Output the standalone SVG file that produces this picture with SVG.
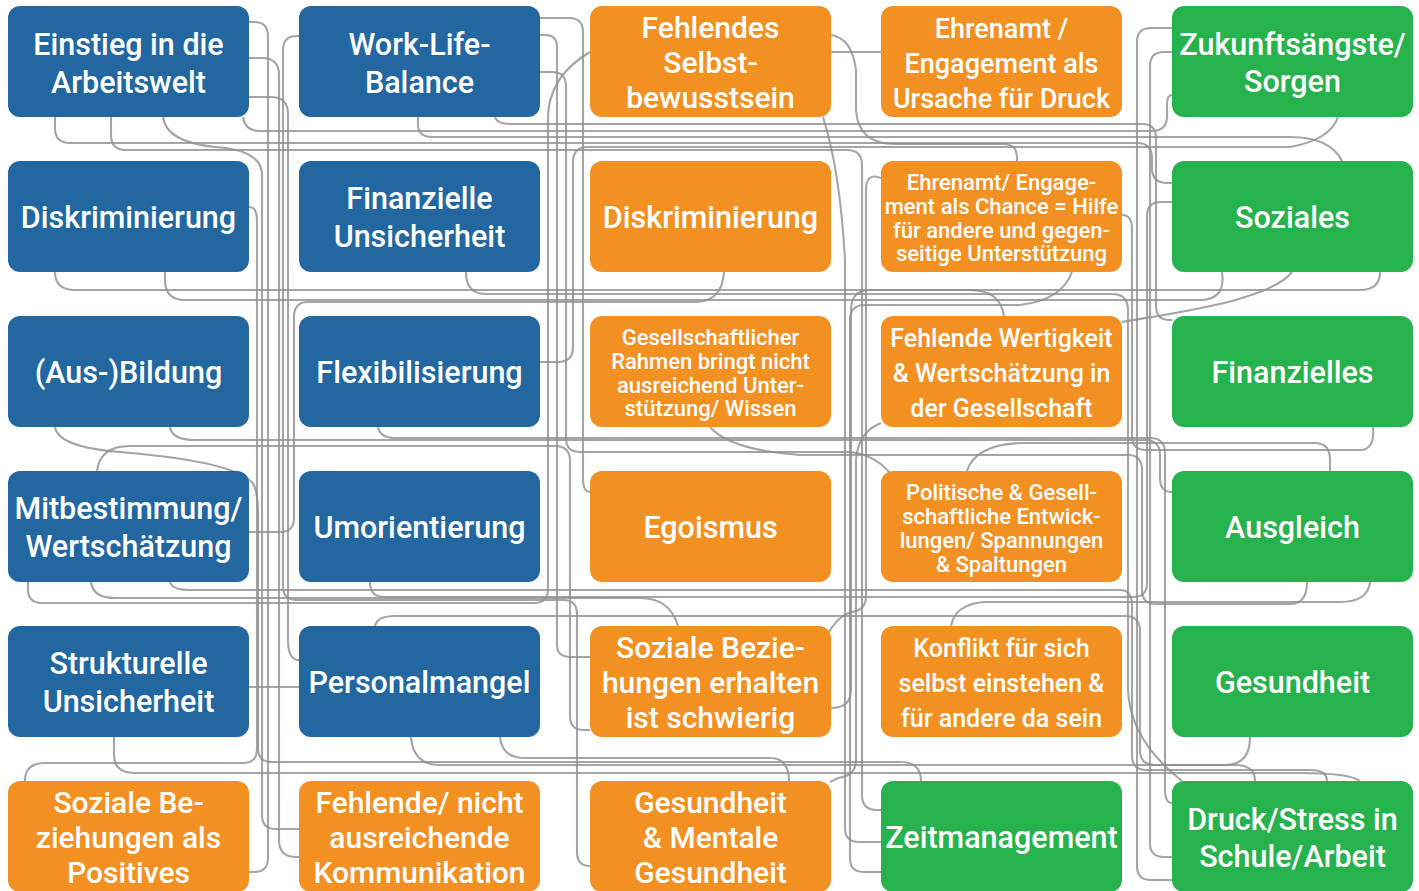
<svg xmlns="http://www.w3.org/2000/svg" width="1419" height="891" viewBox="0 0 1419 891">
<style>
.c path{fill:none;stroke:#8f8f8f;stroke-opacity:0.8;stroke-width:2.1}
.bl{fill:#22679f}.or{fill:#f39022}.gr{fill:#26b24c}
text{font-family:Roboto,"Open Sans","Liberation Sans",sans-serif;font-weight:500;fill:#fff;text-anchor:middle}
.L{font-size:30.5px}.M{font-size:30px}.S{font-size:25px}.E{font-size:27px}.X{font-size:22px}
</style>
<rect width="1419" height="891" fill="#fff"/>
<g class="c" id="connectors">
<path d="M249 22 H254 Q268 22 268 36 V858 Q268 872 254 872 H249"/>
<path d="M249 58 H262 Q279 58 279 75 V840 Q279 857 296 857 H299"/>
<path d="M249 97 H271 Q288 97 288 114 V640 Q288 660 299 660"/>
<path d="M55 117 V128 Q55 143 70 143 H1137 Q1152 143 1152 158 V168 Q1152 183 1167 183 H1172"/>
<path d="M111 117 V135 Q111 150 126 150 H847 Q862 150 862 165 V795 Q862 810 877 810 H881"/>
<path d="M163 117 Q166 142 215 147 Q262 150 262 175 V815 Q262 829 276 829 H299"/>
<path d="M243 117 Q245 131 260 131 H1152 Q1167 131 1167 116 V105 Q1167 95 1172 95"/>
<path d="M299 36 H297 Q283 36 283 50 V586 Q283 600 297 600 H563 Q577 600 577 614 V852 Q577 866 590 866"/>
<path d="M540 18 H569 Q583 18 583 32 V478 Q583 492 590 492"/>
<path d="M540 35 H545 Q557 35 557 47 V645 Q557 657 571 657 H590"/>
<path d="M540 72 H552 Q566 72 566 86 V438 Q566 452 580 452 H845 Q872 452 890 473"/>
<path d="M418 117 V124 Q418 137 432 137 H1290 Q1330 137 1342 161"/>
<path d="M495 117 Q497 124 510 124 H1142 Q1156 124 1156 138 V306 Q1156 320 1170 320 H1172"/>
<path d="M590 52 Q560 70 552 95 Q548 105 548 120 V589 Q548 603 534 603 H42 Q28 603 28 589 V582"/>
<path d="M831 35 Q852 38 856 70 V110 Q858 144 895 144 H1003 Q1017 144 1017 158 V161"/>
<path d="M831 52 H881"/>
<path d="M823 117 Q840 170 845 260 V828 Q845 842 859 842 H881"/>
<path d="M1172 28 H1151 Q1137 28 1137 42 V866 Q1137 880 1151 880 H1172"/>
<path d="M1172 52 H1164 Q1150 52 1150 66 V843 Q1150 857 1164 857 H1172"/>
<path d="M1338 117 Q1330 140 1290 147 H588 Q573 147 573 162 V347 Q573 362 558 362 H540"/>
<path d="M1172 202 H1161 Q1147 202 1147 216 V583 Q1147 597 1133 597 H384 Q370 597 370 582"/>
<path d="M1222 272 Q1226 300 1200 300 H185 Q165 300 165 280 V272"/>
<path d="M466 272 Q466 294 486 294 H1112 Q1128 294 1128 310 V690 Q1130 740 1182 781"/>
<path d="M1380 272 Q1380 290 1360 290 H75 Q55 290 55 272"/>
<path d="M724 272 Q722 302 695 302 H308 Q294 302 294 317 V518 Q294 532 280 532 H249"/>
<path d="M1072 272 Q1062 300 1020 305 H865 Q850 305 850 320 V858 Q850 872 864 872 H881"/>
<path d="M881 178 Q866 172 866 190 V596 Q866 610 852 612 Q838 615 826 637"/>
<path d="M1122 215 Q1132 215 1132 229 V436 Q1132 450 1146 450 H1360 Q1375 450 1373 427"/>
<path d="M1004 316 Q1000 290 970 290 H870 Q851 290 851 310 V690 Q851 708 831 708"/>
<path d="M881 423 Q858 432 856 460 V760 Q856 776 838 778 L830 782"/>
<path d="M1122 322 C1180 312 1270 300 1292 272"/>
<path d="M710 427 Q730 450 800 455 H1128 Q1142 455 1142 470 V590 Q1142 604 1156 604 H1290 Q1307 604 1307 582"/>
<path d="M170 427 Q172 440 195 440 H1145 Q1160 440 1160 455 V478 Q1160 492 1172 492"/>
<path d="M55 427 Q58 447 120 452 Q240 462 254 485 Q258 495 258 515 V748 Q258 762 272 762 H900 Q921 762 921 781"/>
<path d="M378 427 Q380 438 395 438 H1150 Q1165 438 1165 453 V789 Q1165 803 1172 803"/>
<path d="M967 471 Q975 445 1020 443 H1315 Q1330 443 1330 460 V471"/>
<path d="M951 626 Q955 604 985 602 H1340 Q1368 602 1370 582"/>
<path d="M97 471 Q100 446 130 446 H555 Q570 446 570 461 V716 Q570 730 584 730 H590"/>
<path d="M375 626 Q377 616 395 616 H1125 Q1140 616 1140 631 V750 Q1140 765 1155 765 H1235 Q1255 765 1255 781"/>
<path d="M91 582 Q93 598 115 598 H640 Q670 598 678 626"/>
<path d="M170 582 Q172 590 190 590 H1120 Q1132 590 1132 605 V756 Q1132 770 1146 770 H1310 Q1327 770 1327 781"/>
<path d="M249 687 H299"/>
<path d="M114 737 V755 Q114 773 135 773 H1300 Q1350 773 1360 781"/>
<path d="M411 737 Q413 765 440 765 H1225 Q1250 765 1250 737"/>
<path d="M500 737 Q502 758 525 758 H770 Q789 758 789 781"/>
<path d="M25 781 Q25 763 45 763 H243 Q257 763 257 749 V221 Q257 207 249 207"/>
</g>
<g id="n1"><rect class="bl" x="8" y="6" width="241" height="111" rx="12"/><text class="L" x="128.5" y="55">Einstieg in die</text><text class="L" x="128.5" y="93">Arbeitswelt</text></g>
<g id="n2"><rect class="bl" x="299" y="6" width="241" height="111" rx="12"/><text class="L" x="419.5" y="55">Work-Life-</text><text class="L" x="419.5" y="93">Balance</text></g>
<g id="n3"><rect class="or" x="590" y="6" width="241" height="111" rx="12"/><text class="M" x="710.5" y="38">Fehlendes</text><text class="M" x="710.5" y="73">Selbst-</text><text class="M" x="710.5" y="108">bewusstsein</text></g>
<g id="n4"><rect class="or" x="881" y="6" width="241" height="111" rx="12"/><text class="E" x="1001.5" y="38">Ehrenamt /</text><text class="E" x="1001.5" y="73">Engagement als</text><text class="E" x="1001.5" y="108">Ursache für Druck</text></g>
<g id="n5"><rect class="gr" x="1172" y="6" width="241" height="111" rx="12"/><text class="L" x="1292.5" y="55">Zukunftsängste/</text><text class="L" x="1292.5" y="92">Sorgen</text></g>
<g id="n6"><rect class="bl" x="8" y="161" width="241" height="111" rx="12"/><text class="L" x="128.5" y="228">Diskriminierung</text></g>
<g id="n7"><rect class="bl" x="299" y="161" width="241" height="111" rx="12"/><text class="L" x="419.5" y="209">Finanzielle</text><text class="L" x="419.5" y="247">Unsicherheit</text></g>
<g id="n8"><rect class="or" x="590" y="161" width="241" height="111" rx="12"/><text class="L" x="710.5" y="228">Diskriminierung</text></g>
<g id="n9"><rect class="or" x="881" y="161" width="241" height="111" rx="12"/><text class="X" x="1001.5" y="190">Ehrenamt/ Engage-</text><text class="X" x="1001.5" y="214">ment als Chance = Hilfe</text><text class="X" x="1001.5" y="238">für andere und gegen-</text><text class="X" x="1001.5" y="261">seitige Unterstützung</text></g>
<g id="n10"><rect class="gr" x="1172" y="161" width="241" height="111" rx="12"/><text class="L" x="1292.5" y="228">Soziales</text></g>
<g id="n11"><rect class="bl" x="8" y="316" width="241" height="111" rx="12"/><text class="L" x="128.5" y="383">(Aus-)Bildung</text></g>
<g id="n12"><rect class="bl" x="299" y="316" width="241" height="111" rx="12"/><text class="L" x="419.5" y="383">Flexibilisierung</text></g>
<g id="n13"><rect class="or" x="590" y="316" width="241" height="111" rx="12"/><text class="X" x="710.5" y="345">Gesellschaftlicher</text><text class="X" x="710.5" y="369">Rahmen bringt nicht</text><text class="X" x="710.5" y="393">ausreichend Unter-</text><text class="X" x="710.5" y="416">stützung/ Wissen</text></g>
<g id="n14"><rect class="or" x="881" y="316" width="241" height="111" rx="12"/><text class="S" x="1001.5" y="347">Fehlende Wertigkeit</text><text class="S" x="1001.5" y="382">&amp; Wertschätzung in</text><text class="S" x="1001.5" y="417">der Gesellschaft</text></g>
<g id="n15"><rect class="gr" x="1172" y="316" width="241" height="111" rx="12"/><text class="L" x="1292.5" y="383">Finanzielles</text></g>
<g id="n16"><rect class="bl" x="8" y="471" width="241" height="111" rx="12"/><text class="L" x="128.5" y="519">Mitbestimmung/</text><text class="L" x="128.5" y="557">Wertschätzung</text></g>
<g id="n17"><rect class="bl" x="299" y="471" width="241" height="111" rx="12"/><text class="L" x="419.5" y="538">Umorientierung</text></g>
<g id="n18"><rect class="or" x="590" y="471" width="241" height="111" rx="12"/><text class="L" x="710.5" y="538">Egoismus</text></g>
<g id="n19"><rect class="or" x="881" y="471" width="241" height="111" rx="12"/><text class="X" x="1001.5" y="500">Politische &amp; Gesell-</text><text class="X" x="1001.5" y="524">schaftliche Entwick-</text><text class="X" x="1001.5" y="548">lungen/ Spannungen</text><text class="X" x="1001.5" y="572">&amp; Spaltungen</text></g>
<g id="n20"><rect class="gr" x="1172" y="471" width="241" height="111" rx="12"/><text class="L" x="1292.5" y="538">Ausgleich</text></g>
<g id="n21"><rect class="bl" x="8" y="626" width="241" height="111" rx="12"/><text class="L" x="128.5" y="674">Strukturelle</text><text class="L" x="128.5" y="712">Unsicherheit</text></g>
<g id="n22"><rect class="bl" x="299" y="626" width="241" height="111" rx="12"/><text class="L" x="419.5" y="693">Personalmangel</text></g>
<g id="n23"><rect class="or" x="590" y="626" width="241" height="111" rx="12"/><text class="M" x="710.5" y="658">Soziale Bezie-</text><text class="M" x="710.5" y="693">hungen erhalten</text><text class="M" x="710.5" y="728">ist schwierig</text></g>
<g id="n24"><rect class="or" x="881" y="626" width="241" height="111" rx="12"/><text class="S" x="1001.5" y="657">Konflikt für sich</text><text class="S" x="1001.5" y="692">selbst einstehen &amp;</text><text class="S" x="1001.5" y="727">für andere da sein</text></g>
<g id="n25"><rect class="gr" x="1172" y="626" width="241" height="111" rx="12"/><text class="L" x="1292.5" y="693">Gesundheit</text></g>
<g id="n26"><rect class="or" x="8" y="781" width="241" height="111" rx="12"/><text class="M" x="128.5" y="813">Soziale Be-</text><text class="M" x="128.5" y="848">ziehungen als</text><text class="M" x="128.5" y="883">Positives</text></g>
<g id="n27"><rect class="or" x="299" y="781" width="241" height="111" rx="12"/><text class="M" x="419.5" y="813">Fehlende/ nicht</text><text class="M" x="419.5" y="848">ausreichende</text><text class="M" x="419.5" y="883">Kommunikation</text></g>
<g id="n28"><rect class="or" x="590" y="781" width="241" height="111" rx="12"/><text class="M" x="710.5" y="813">Gesundheit</text><text class="M" x="710.5" y="848">&amp; Mentale</text><text class="M" x="710.5" y="883">Gesundheit</text></g>
<g id="n29"><rect class="gr" x="881" y="781" width="241" height="111" rx="12"/><text class="L" x="1001.5" y="848">Zeitmanagement</text></g>
<g id="n30"><rect class="gr" x="1172" y="781" width="241" height="111" rx="12"/><text class="L" x="1292.5" y="830">Druck/Stress in</text><text class="L" x="1292.5" y="867">Schule/Arbeit</text></g>
</svg>
